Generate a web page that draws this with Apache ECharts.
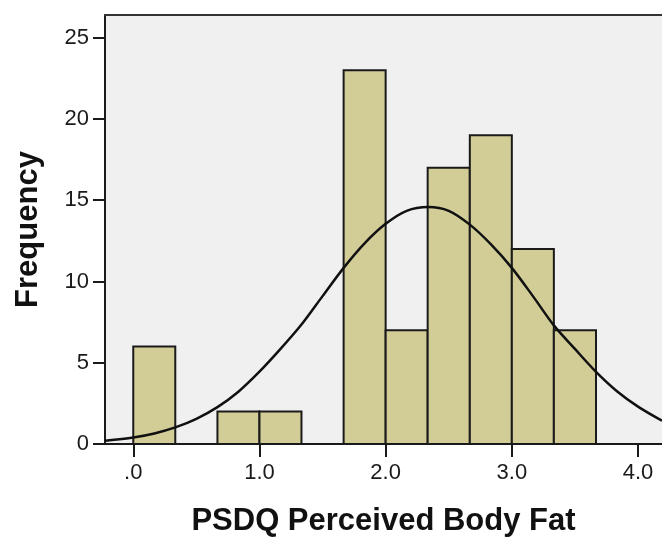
<!DOCTYPE html>
<html>
<head>
<meta charset="utf-8">
<script src="https://cdn.jsdelivr.net/npm/echarts@6/dist/echarts.min.js"></script>
<style>
html,body{margin:0;padding:0;background:#fff;}
#chart{width:662px;height:542px;}
</style>
</head>
<body>
<div id="chart"></div>
<script>
// Histogram bin edges and frequencies
var binEdges = [0, 0.333, 0.667, 1.0, 1.333, 1.667, 2.0, 2.333, 2.667, 3.0, 3.333, 3.667];
var counts = [6, 0, 2, 2, 0, 23, 7, 17, 19, 12, 7];
// Normal curve points
var curveX = [-0.224, 0.0, 0.167, 0.333, 0.5, 0.667, 0.833, 1.0, 1.167, 1.333, 1.5, 1.667, 1.833, 2.0, 2.167, 2.336, 2.5, 2.667, 2.833, 3.0, 3.167, 3.333, 3.5, 3.667, 3.833, 4.0, 4.19];
var curveY = [0.2, 0.4, 0.65, 1.02, 1.55, 2.27, 3.22, 4.45, 5.85, 7.35, 9.1, 10.84, 12.35, 13.55, 14.35, 14.58, 14.35, 13.5, 12.3, 10.84, 9.1, 7.3, 5.85, 4.44, 3.25, 2.3, 1.43];
// Tick labels
var xTickValues = [0, 1, 2, 3, 4];
var xTickLabels = ['.0', '1.0', '2.0', '3.0', '4.0'];
var yTickValues = [0, 5, 10, 15, 20, 25];

var barData = [];
for (var i = 0; i < counts.length; i++) {
  if (counts[i] > 0) barData.push([binEdges[i], binEdges[i + 1], counts[i]]);
}
var curveData = curveX.map(function (x, i) { return [x, curveY[i]]; });

var chart = echarts.init(document.getElementById('chart'), null, {renderer: 'canvas'});
var font = 'Liberation Sans, Arial, sans-serif';
chart.setOption({
  animation: false,
  backgroundColor: '#ffffff',
  grid: {left: 105, right: 0, top: 15, bottom: 97, show: true, backgroundColor: '#f0f0f0', borderWidth: 0},
  xAxis: [{
    type: 'value', min: -0.224, max: 4.19,
    name: 'PSDQ Perceived Body Fat', nameLocation: 'middle', nameGap: 62,
    nameTextStyle: {fontFamily: font, fontSize: 31, fontWeight: 'bold', color: '#111'},
    axisLine: {show: true, onZero: false, lineStyle: {color: '#1a1a1a', width: 2}},
    axisTick: {show: true, length: 13, customValues: xTickValues, lineStyle: {color: '#1a1a1a', width: 2}},
    axisLabel: {customValues: xTickValues, margin: 18, fontFamily: font, fontSize: 22, color: '#1a1a1a',
      formatter: function (v) { var k = xTickValues.indexOf(Math.round(v)); return k >= 0 ? xTickLabels[k] : ''; }},
    splitLine: {show: false}
  }, {
    type: 'value', position: 'top', min: -0.224, max: 4.19,
    axisLine: {show: true, onZero: false, lineStyle: {color: '#333', width: 2}},
    axisTick: {show: false}, axisLabel: {show: false}, splitLine: {show: false}
  }],
  yAxis: {
    type: 'value', min: 0, max: 26.4,
    name: 'Frequency', nameLocation: 'middle', nameGap: 61,
    nameTextStyle: {fontFamily: font, fontSize: 31, fontWeight: 'bold', color: '#111'},
    axisLine: {show: true, onZero: false, lineStyle: {color: '#1a1a1a', width: 2}},
    axisTick: {show: true, length: 12, customValues: yTickValues, lineStyle: {color: '#1a1a1a', width: 2}},
    axisLabel: {customValues: yTickValues, margin: 16, fontFamily: font, fontSize: 22, color: '#1a1a1a'},
    splitLine: {show: false}
  },
  series: [{
    type: 'custom',
    data: barData,
    renderItem: function (params, api) {
      var p0 = api.coord([api.value(0), 0]);
      var p1 = api.coord([api.value(1), api.value(2)]);
      return {
        type: 'rect',
        shape: {x: p0[0], y: p1[1], width: p1[0] - p0[0], height: p0[1] - p1[1]},
        style: {fill: '#d2cd96', stroke: '#1a1a1a', lineWidth: 2}
      };
    },
    encode: {x: [0, 1], y: 2},
    z: 2
  }, {
    type: 'line',
    data: curveData,
    smooth: 0.3,
    showSymbol: false,
    symbol: 'none',
    clip: true,
    lineStyle: {color: '#111', width: 2.5},
    z: 3
  }]
});
</script>
</body>
</html>
